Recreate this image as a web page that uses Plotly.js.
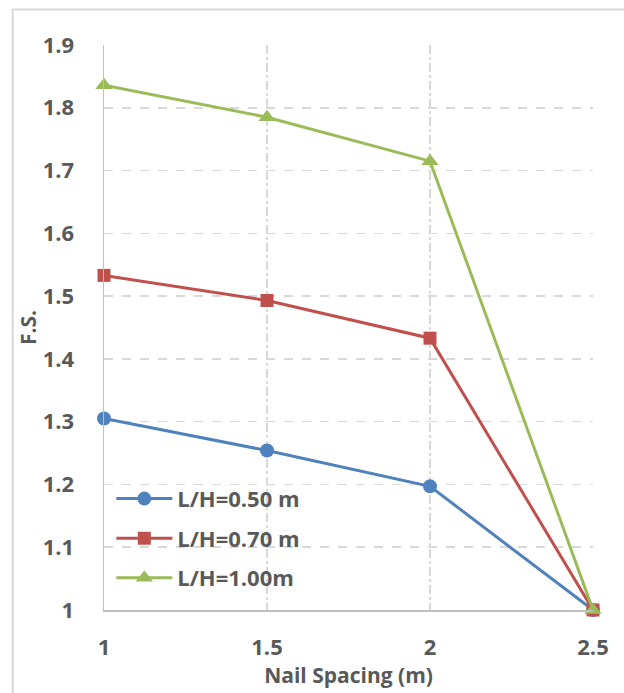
<!DOCTYPE html>
<html>
<head>
<meta charset="utf-8">
<script src="https://cdn.plot.ly/plotly-3.0.1.min.js"></script>
<style>html,body{margin:0;padding:0;background:#fff;}#chart{width:624px;height:693px;}</style>
</head>
<body>
<div id="chart"></div>
<script>
const spacing = [1, 1.5, 2, 2.5];
const fs_050 = [1.305, 1.254, 1.197, 1.0];
const fs_070 = [1.533, 1.493, 1.433, 1.0];
const fs_100 = [1.836, 1.785, 1.715, 1.0];
const seriesNames = ['L/H=0.50 m', 'L/H=0.70 m', 'L/H=1.00m'];
const xTicks = [1, 1.5, 2, 2.5];
const yTicks = [1, 1.1, 1.2, 1.3, 1.4, 1.5, 1.6, 1.7, 1.8, 1.9];

const font = '"Open Sans", Lato, sans-serif';
const gray = '#595959';

const traces = [
  {x: spacing, y: fs_050, name: seriesNames[0], legendgroup: 'a', mode: 'lines+markers', cliponaxis: false,
   line: {color: '#4F81BD', width: 3}, marker: {symbol: 'circle', size: 14, color: '#4F81BD'}},
  {x: spacing, y: fs_070, name: seriesNames[1], legendgroup: 'b', mode: 'lines+markers', cliponaxis: false,
   line: {color: '#C0504D', width: 3}, marker: {symbol: 'square', size: 13, color: '#C0504D'}},
  {x: spacing, y: fs_100, name: seriesNames[2], legendgroup: 'c', mode: 'lines+markers', cliponaxis: false,
   line: {color: '#9BBB59', width: 3}, marker: {symbol: 'triangle-up', size: 15, color: '#9BBB59'}}
];

const layout = {
  width: 624, height: 693,
  margin: {l: 104, r: 31, t: 45, b: 83, pad: 0},
  paper_bgcolor: '#fff', plot_bgcolor: '#fff',
  font: {family: font, color: gray, size: 18},
  showlegend: true,
  legend: {x: 0.015, y: 0.234, xanchor: 'left', yanchor: 'top', bgcolor: 'rgba(0,0,0,0)',
           font: {family: font, size: 22, color: gray, weight: 'bold'}, itemwidth: 56, tracegroupgap: 8},
  xaxis: {
    range: [1, 2.5], tickvals: xTicks, ticktext: xTicks.map(String),
    showgrid: true, gridcolor: '#d9d9d9', gridwidth: 1.5, griddash: 'dashdot',
    showline: true, linecolor: '#bfbfbf', linewidth: 1.5, zeroline: false, ticks: '',
    tickfont: {family: font, size: 22, color: gray, weight: 'bold'}, ticklabelstandoff: 17,
    title: {text: 'Nail Spacing (m)', font: {family: font, size: 21, color: gray, weight: 'bold'}, standoff: 7}
  },
  yaxis: {
    range: [1, 1.9], tickvals: yTicks, ticktext: yTicks.map(String),
    showgrid: true, gridcolor: '#d9d9d9', gridwidth: 1.5, griddash: 'dash',
    showline: true, linecolor: '#bfbfbf', linewidth: 1.5, zeroline: false, ticks: '',
    tickfont: {family: font, size: 22, color: gray, weight: 'bold'}, ticklabelstandoff: 24,
    title: {text: 'F.S.', font: {family: font, size: 21, color: gray, weight: 'bold'}, standoff: 0}
  },
  shapes: [
    {type: 'rect', xref: 'paper', yref: 'paper', x0: -0.1866, x1: 1.2, y0: -0.3, y1: 1.0628,
     line: {color: '#d9d9d9', width: 2}, fillcolor: 'rgba(0,0,0,0)', layer: 'below'}
  ]
};

Plotly.newPlot('chart', traces, layout, {displayModeBar: false, staticPlot: true});
</script>
</body>
</html>
